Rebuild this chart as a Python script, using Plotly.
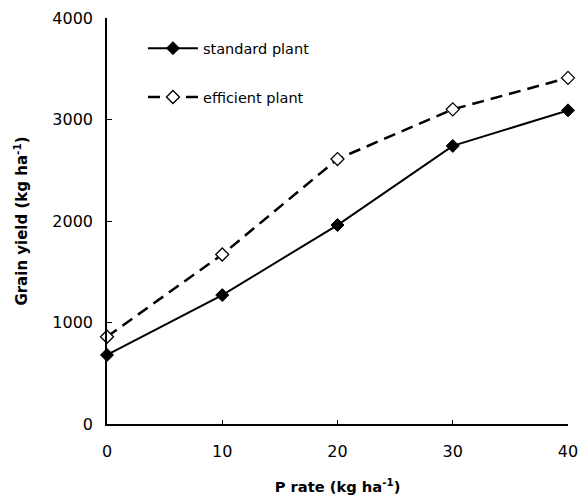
import plotly.graph_objects as go

p_rate = [0, 10, 20, 30, 40]
standard_plant = [680, 1270, 1960, 2740, 3090]
efficient_plant = [860, 1670, 2610, 3100, 3410]
x_ticks = [0, 10, 20, 30, 40]
y_ticks = [0, 1000, 2000, 3000, 4000]

fig = go.Figure()
fig.add_trace(go.Scatter(
    x=p_rate, y=standard_plant, name="standard plant", mode="lines+markers",
    legendgroup="a",
    line=dict(color="black", width=2),
    marker=dict(symbol="diamond", size=10, color="black", line=dict(color="black", width=1)),
    cliponaxis=False))
fig.add_trace(go.Scatter(
    x=p_rate, y=efficient_plant, name="efficient plant", mode="lines+markers",
    legendgroup="b",
    line=dict(color="black", width=2.5, dash="12px,7px"),
    marker=dict(symbol="diamond", size=10, color="white", line=dict(color="black", width=1.3)),
    cliponaxis=False))

font = "DejaVu Sans, Liberation Sans, Arial, sans-serif"
fig.update_layout(
    width=580, height=494,
    margin=dict(l=99, r=20, t=10, b=78),
    paper_bgcolor="white", plot_bgcolor="white",
    font=dict(family=font, size=16, color="black"),
    showlegend=True,
    legend=dict(x=0.078, y=0.965, xanchor="left", yanchor="top",
                bgcolor="rgba(0,0,0,0)", font=dict(size=14.5), itemwidth=50,
                traceorder="grouped", tracegroupgap=27),
    xaxis=dict(range=[0, 40], tickvals=x_ticks, ticks="inside", ticklen=4,
               tickcolor="black", showline=True, linecolor="black", linewidth=1.5,
               showgrid=False, zeroline=False, ticklabelstandoff=12, automargin=False,
               ticklabeloverflow="allow",
               title=dict(text="<b>P rate (kg ha<sup>-1</sup>)</b>", standoff=22,
                          font=dict(size=14.7))),
    yaxis=dict(range=[0, 4000], tickvals=y_ticks, ticks="inside", ticklen=5,
               tickcolor="black", showline=True, linecolor="black", linewidth=1.5,
               showgrid=False, zeroline=False, ticklabelstandoff=9, automargin=False,
               ticklabeloverflow="allow",
               title=dict(text="<b>Grain yield (kg ha<sup>-1</sup>)</b>", standoff=21,
                          font=dict(size=15))),
)
fig.write_html("out.html")
